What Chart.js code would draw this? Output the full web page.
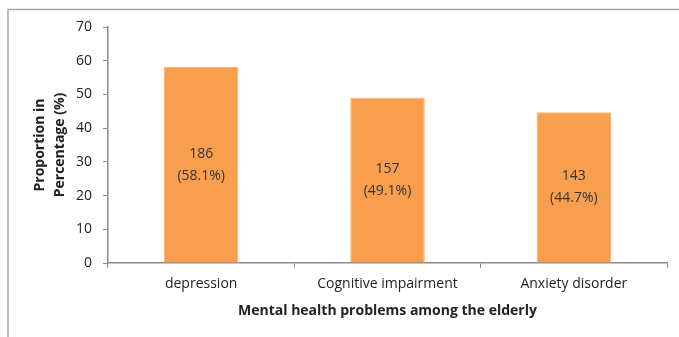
<!DOCTYPE html>
<html>
<head>
<meta charset="utf-8">
<script src="https://cdn.jsdelivr.net/npm/chart.js@4/dist/chart.umd.min.js"></script>
<style>
html,body{margin:0;padding:0;background:#fff;}
#wrap{position:relative;width:679px;height:337px;}
</style>
</head>
<body>
<div id="wrap"><canvas id="c" width="679" height="337"></canvas></div>
<script>
const categories = ["depression", "Cognitive impairment", "Anxiety disorder"];
const percentages = [58.1, 49.1, 44.7];
const counts = [186, 157, 143];
const yTicks = [0, 10, 20, 30, 40, 50, 60, 70];
const yTitle = ["Proportion in", "Percentage (%)"];
const xTitle = "Mental health problems among the elderly";

const FONT = "'Open Sans', 'Liberation Sans', sans-serif";
const TEXT = "#222";
const AXIS = "#8c8c8c";

const framePlugin = {
  id: 'frame',
  beforeDraw(chart) {
    const ctx = chart.ctx;
    ctx.save();
    ctx.fillStyle = '#fff';
    ctx.fillRect(0, 0, chart.width, chart.height);
    ctx.strokeStyle = '#a6a6a6';
    ctx.lineWidth = 1.5;
    ctx.strokeRect(8, 9.5, 800, 500);
    ctx.restore();
  }
};

const labelPlugin = {
  id: 'barLabels',
  afterDatasetsDraw(chart) {
    const ctx = chart.ctx;
    const meta = chart.getDatasetMeta(0);
    ctx.save();
    ctx.font = "14px " + FONT;
    ctx.fillStyle = "#333";
    ctx.textAlign = 'center';
    ctx.textBaseline = 'middle';
    meta.data.forEach((bar, i) => {
      const cy = (bar.y + bar.base) / 2;
      ctx.fillText(String(counts[i]), bar.x, cy - 11);
      ctx.fillText("(" + percentages[i].toFixed(1) + "%)", bar.x, cy + 11);
    });
    ctx.restore();
  }
};

new Chart(document.getElementById('c'), {
  type: 'bar',
  data: {
    labels: categories,
    datasets: [{
      data: percentages,
      backgroundColor: '#F79F4F',
      borderColor: '#F9B37A',
      borderWidth: 1,
      categoryPercentage: 1.0,
      barPercentage: 0.4
    }]
  },
  options: {
    responsive: false,
    animation: false,
    devicePixelRatio: 1,
    layout: { padding: { top: 27, left: 8, right: 12, bottom: 0 } },
    plugins: { legend: { display: false }, tooltip: { enabled: false } },
    scales: {
      x: {
        offset: true,
        grid: { display: true, offset: true, drawOnChartArea: false, tickLength: 5, color: AXIS },
        border: { color: AXIS, width: 1.5 },
        ticks: { color: TEXT, font: { family: FONT, size: 14 }, padding: 8 },
        title: { display: true, text: xTitle, color: TEXT, font: { family: FONT, size: 14, weight: 'bold', lineHeight: 1.43 }, padding: { top: 0, bottom: 16 } },
        afterFit(s) { s.height = 74; }
      },
      y: {
        min: 0, max: 70,
        afterBuildTicks(s) { s.ticks = yTicks.map(v => ({ value: v })); },
        grid: { display: true, drawOnChartArea: false, tickLength: 5, color: AXIS },
        border: { color: AXIS, width: 1.5 },
        ticks: { color: TEXT, font: { family: FONT, size: 14 }, padding: 11 },
        title: { display: true, text: yTitle, color: TEXT, font: { family: FONT, size: 14, weight: 'bold', lineHeight: 1.43 }, padding: { top: 22, bottom: 0 } },
        afterFit(s) { s.width = 100; }
      }
    }
  },
  plugins: [framePlugin, labelPlugin]
});
</script>
</body>
</html>
